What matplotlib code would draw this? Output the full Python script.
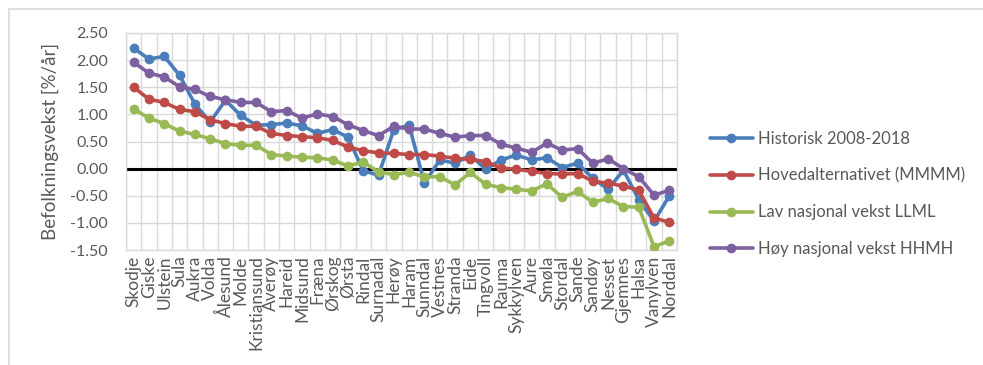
import matplotlib
matplotlib.use("Agg")
import matplotlib.pyplot as plt
from matplotlib.lines import Line2D

plt.rcParams['font.family'] = ['Lato', 'DejaVu Sans']

kommuner = ["Skodje", "Giske", "Ulstein", "Sula", "Aukra", "Volda", "Ålesund", "Molde",
            "Kristiansund", "Averøy", "Hareid", "Midsund", "Fræna", "Ørskog", "Ørsta",
            "Rindal", "Surnadal", "Herøy", "Haram", "Sunndal", "Vestnes", "Stranda", "Eide",
            "Tingvoll", "Rauma", "Sykkylven", "Aure", "Smøla", "Stordal", "Sande", "Sandøy",
            "Nesset", "Gjemnes", "Halsa", "Vanylven", "Norddal"]

historisk = [2.22, 2.02, 2.07, 1.72, 1.19, 0.86, 1.26, 0.98, 0.80, 0.81, 0.84, 0.79,
             0.65, 0.72, 0.58, -0.04, -0.12, 0.72, 0.80, -0.27, 0.16, 0.10, 0.25, -0.01,
             0.16, 0.25, 0.16, 0.20, 0.02, 0.10, -0.18, -0.38, -0.03, -0.57, -0.97, -0.50]

hovedalt = [1.50, 1.28, 1.22, 1.09, 1.05, 0.90, 0.83, 0.78, 0.78, 0.65, 0.61, 0.59,
            0.57, 0.52, 0.40, 0.33, 0.29, 0.28, 0.26, 0.26, 0.23, 0.19, 0.17, 0.13,
            0.01, -0.01, -0.05, -0.09, -0.10, -0.09, -0.23, -0.27, -0.32, -0.40, -0.91, -0.99]

lav = [1.10, 0.93, 0.83, 0.69, 0.63, 0.55, 0.46, 0.43, 0.43, 0.26, 0.23, 0.21,
       0.20, 0.16, 0.05, 0.12, -0.06, -0.11, -0.07, -0.15, -0.15, -0.30, -0.07, -0.29,
       -0.35, -0.38, -0.41, -0.28, -0.53, -0.42, -0.62, -0.55, -0.70, -0.71, -1.44, -1.33]

hoy = [1.96, 1.76, 1.69, 1.51, 1.46, 1.33, 1.27, 1.22, 1.22, 1.05, 1.07, 0.93,
       1.01, 0.96, 0.81, 0.70, 0.61, 0.78, 0.73, 0.73, 0.65, 0.58, 0.61, 0.61,
       0.45, 0.38, 0.30, 0.47, 0.34, 0.37, 0.10, 0.18, 0.00, -0.15, -0.49, -0.40]

serier = [
    ("Historisk 2008-2018", historisk, "#4A7EBB"),
    ("Hovedalternativet (MMMM)", hovedalt, "#BE4B48"),
    ("Lav nasjonal vekst LLML", lav, "#98B954"),
    ("Høy nasjonal vekst HHMH", hoy, "#7D60A0"),
]

W, H = 983, 365
fig = plt.figure(figsize=(W / 100, H / 100), dpi=100)

# outer chart frame (only top and left edges fall inside the canvas)
fig.add_artist(Line2D([9 / W, 9 / W], [0, 1 - 9 / H], color="#d9d9d9", lw=1.2))
fig.add_artist(Line2D([9 / W, 1], [1 - 9 / H, 1 - 9 / H], color="#d9d9d9", lw=1.2))

left, right, top, bottom = 126, 677, 33, 250
ax = fig.add_axes([left / W, 1 - bottom / H, (right - left) / W, (bottom - top) / H])

x = list(range(len(kommuner)))
handles = []
for i, (navn, verdier, farge) in enumerate(serier):
    h, = ax.plot(x, verdier, color=farge, lw=2.6, marker="o", ms=7,
                 markeredgewidth=0, label=navn, zorder=3 + i, solid_capstyle="round")
    handles.append(h)

ax.axhline(0, color="black", lw=2.2, zorder=2)

ax.set_xlim(-0.5, len(kommuner) - 0.5)
ax.set_ylim(-1.5, 2.5)
yt = [-1.5 + 0.5 * k for k in range(9)]
ax.set_yticks(yt)
ax.set_yticklabels([f"{v:.2f}" for v in yt], fontsize=11.5, color="#595959")
ax.set_xticks(x)
ax.set_xticklabels(kommuner, rotation=90, fontsize=12.5, color="#595959")
ax.tick_params(axis="both", length=0)
ax.tick_params(axis="y", pad=13)
ax.tick_params(axis="x", pad=4)

# gridlines: horizontal at each tick, vertical between categories
for v in yt:
    ax.axhline(v, color="#d9d9d9", lw=1.0, zorder=1)
for k in range(len(kommuner) + 1):
    ax.axvline(k - 0.5, color="#d9d9d9", lw=1.0, zorder=1)
for s in ax.spines.values():
    s.set_color("#d9d9d9")
    s.set_linewidth(1.0)

ax.set_ylabel("Befolkningsvekst [%/år]", fontsize=13.5, color="#595959", labelpad=8)

leg = fig.legend(handles=handles, loc="upper left", bbox_to_anchor=(703 / W, 1 - 124 / H),
                 frameon=False, fontsize=12, labelcolor="#595959", handlelength=2.6,
                 handletextpad=0.3, labelspacing=1.25, borderaxespad=0)

fig.savefig("out.png", dpi=100)
